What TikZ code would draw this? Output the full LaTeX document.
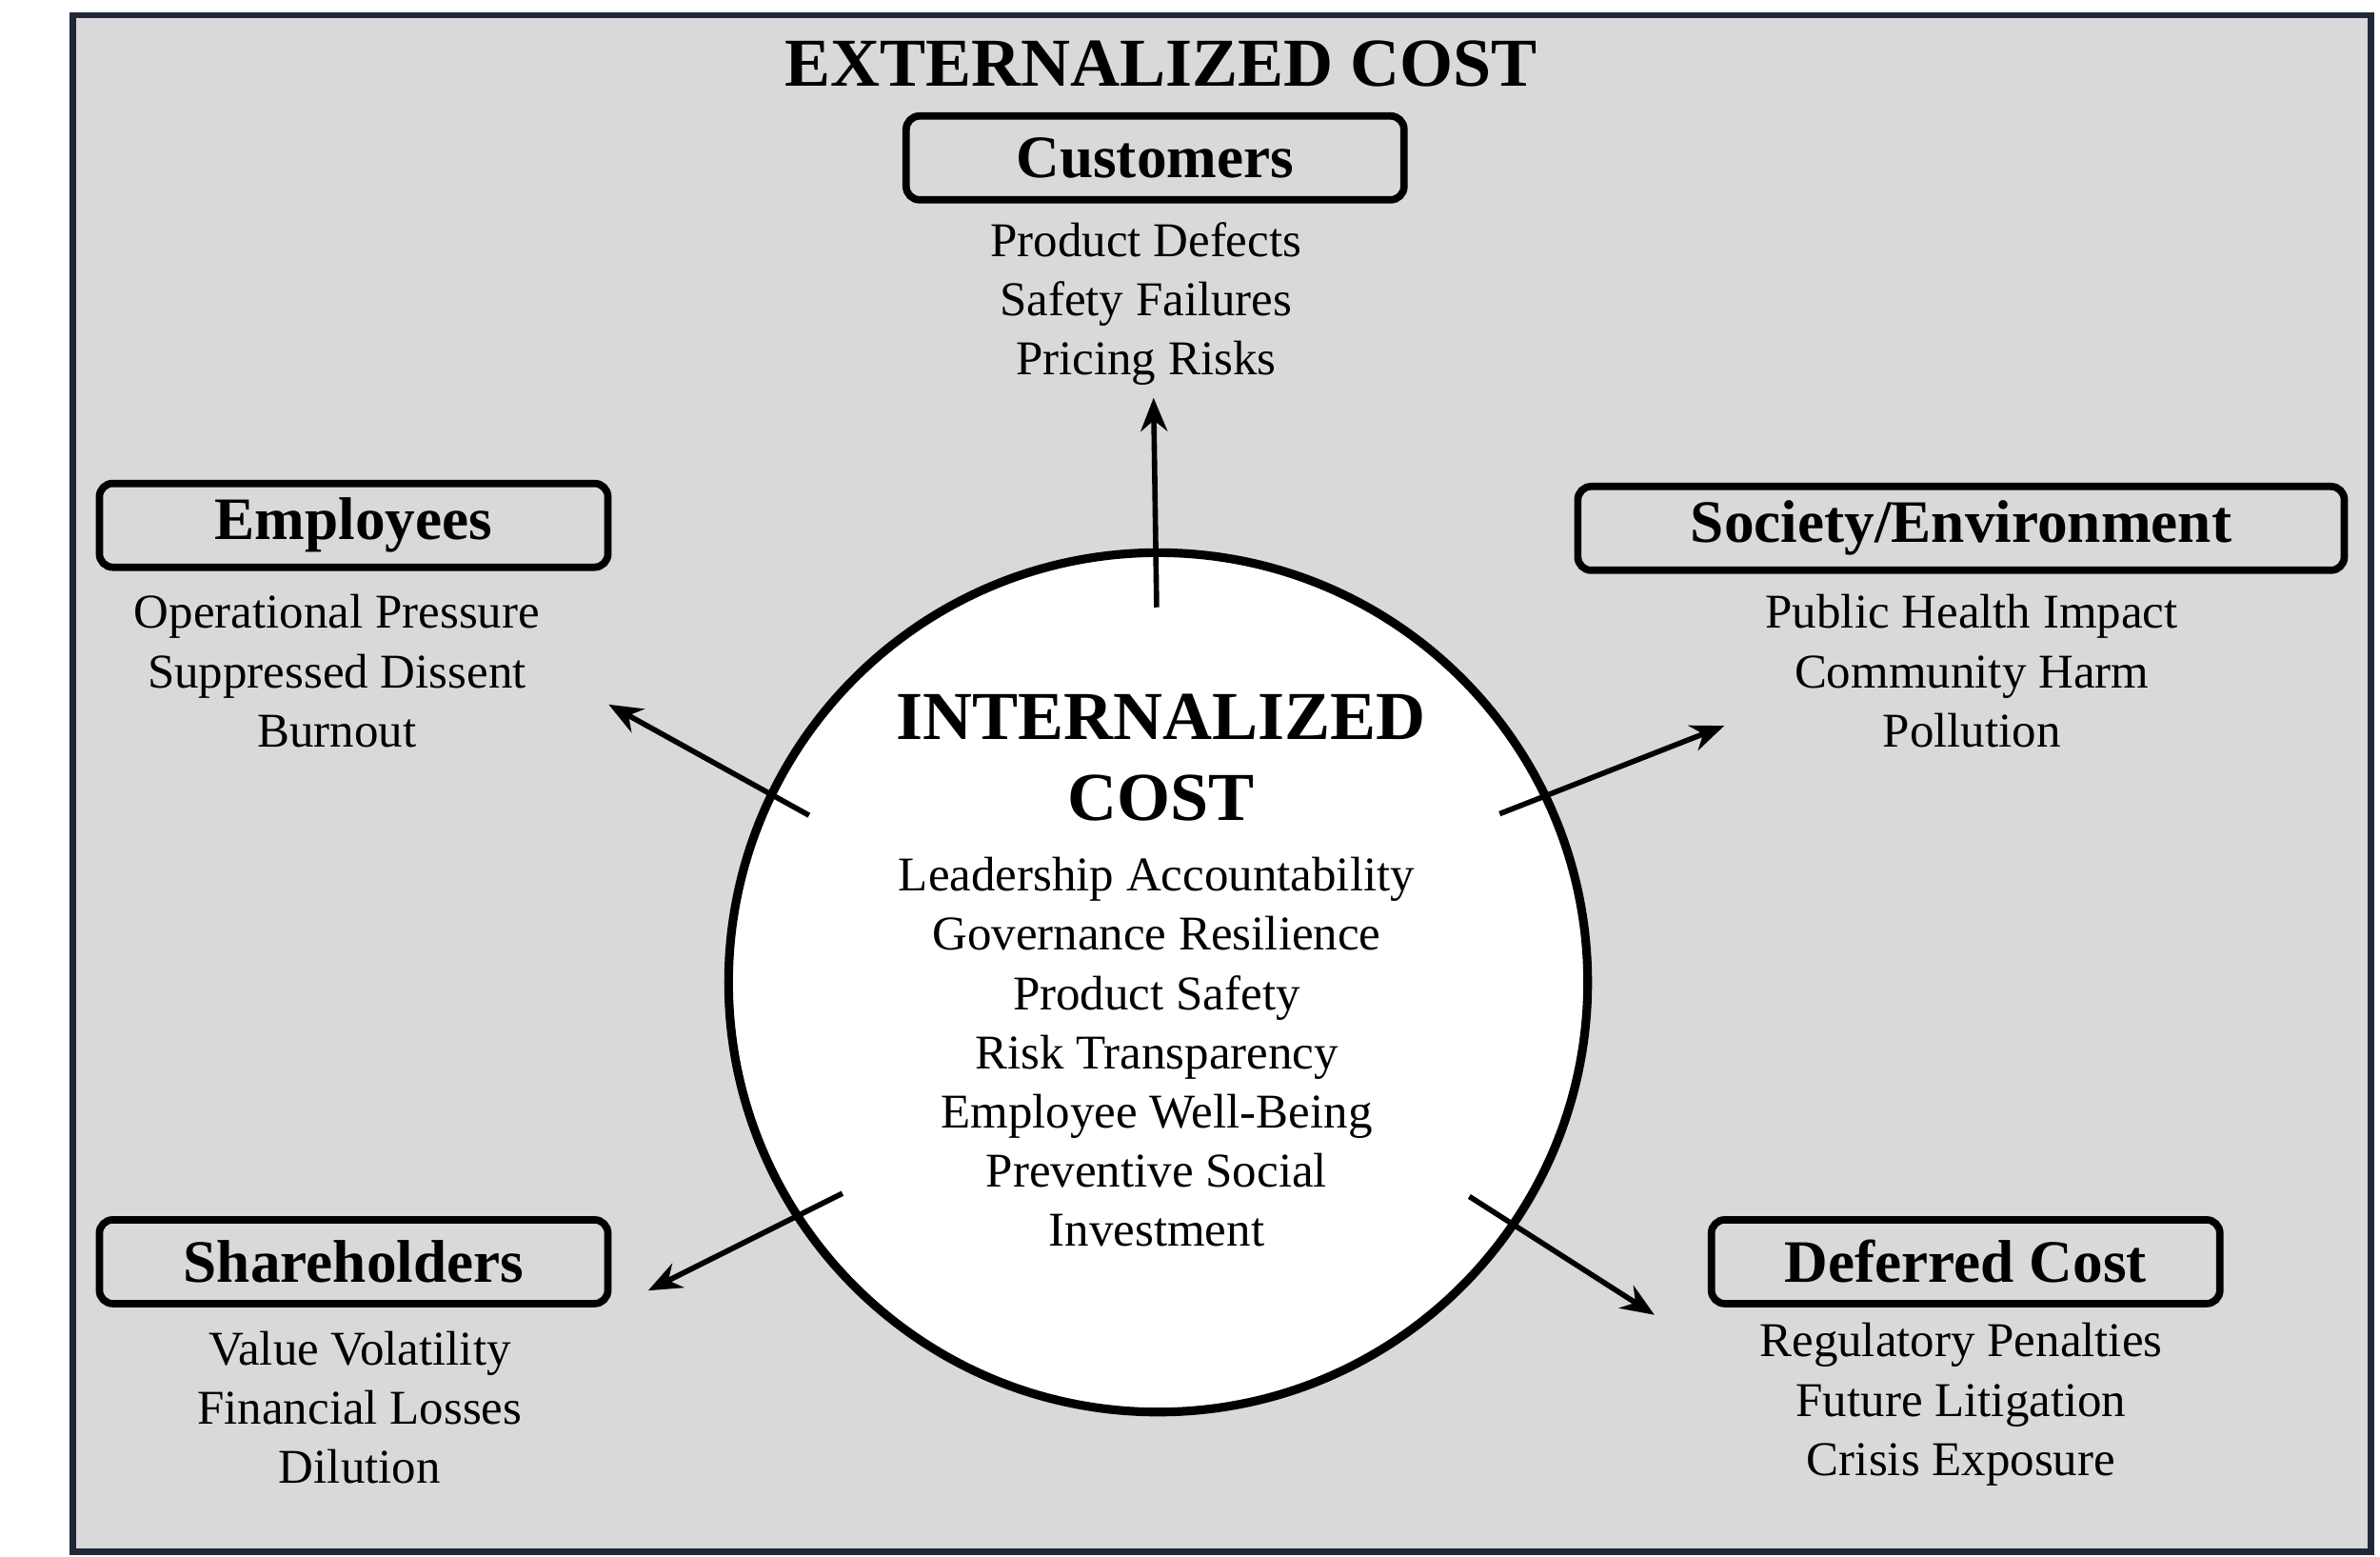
\documentclass[tikz,border=0pt]{standalone}
\usepackage{fontspec}
\setmainfont{Liberation Serif}
\usetikzlibrary{arrows.meta}
\begin{document}
\begin{tikzpicture}[x=0.01594cm,y=-0.01594cm,
 box/.style={draw=black,line width=2.2pt,rounded corners=4pt,fill=none,minimum height=0.88cm,font=\fontsize{18}{20}\selectfont\bfseries},
 lst/.style={align=center,font=\fontsize{14.5}{17.7}\selectfont,inner sep=0pt},
 arr/.style={line width=1.6pt,-{Stealth[length=10pt,width=8pt]}}]
\useasboundingbox (0,0) rectangle (1568,1025);
\fill[white] (0,0) rectangle (1568,1025);
\draw[fill={rgb,255:red,217;green,217;blue,217},draw={rgb,255:red,30;green,40;blue,55},line width=1.8pt] (48,10) rectangle (1562,1022);
\node[font=\fontsize{20.5}{22}\selectfont\bfseries] (title) at (765,42) {EXTERNALIZED COST};
\node[circle,draw,line width=2.6pt,fill=white,minimum size=566*0.01594cm] (c) at (763,647) {};
\node[font=\fontsize{20.5}{24}\selectfont\bfseries,align=center] (ct) at (765,499) {INTERNALIZED\\COST};
\node[lst] (cl) at (762,693) {Leadership Accountability\\Governance Resilience\\Product Safety\\Risk Transparency\\Employee Well-Being\\Preventive Social\\Investment};
\node[box,minimum width=328*0.01594cm] (cu) at (761,104) {Customers};
\node[lst] (cul) at (755,200) {Product Defects\\Safety Failures\\Pricing Risks};
\node[box,minimum width=335*0.01594cm] (em) at (233,346) {Employees};
\node[lst] (eml) at (222,442) {Operational Pressure\\Suppressed Dissent\\Burnout};
\node[box,minimum width=505*0.01594cm] (so) at (1292,348) {Society/Environment};
\node[lst] (sol) at (1299,442) {Public Health Impact\\Community Harm\\Pollution};
\node[box,minimum width=335*0.01594cm] (sh) at (233,831) {Shareholders};
\node[lst] (shl) at (237,927) {Value Volatility\\Financial Losses\\Dilution};
\node[box,minimum width=335*0.01594cm] (de) at (1295,831) {Deferred Cost};
\node[lst] (del) at (1292,925) {Regulatory Penalties\\Future Litigation\\Crisis Exposure};
\coordinate (s1) at (762,400); \coordinate (e1) at (760,262);
\coordinate (s2) at (533,537); \coordinate (e2) at (401,464);
\coordinate (s3) at (988,536); \coordinate (e3) at (1136,478);
\coordinate (s4) at (555,786); \coordinate (e4) at (427,850);
\coordinate (s5) at (968,788); \coordinate (e5) at (1090,866);
\foreach \i in {1,...,5} \draw[arr] (s\i) -- (e\i);
\end{tikzpicture}
\end{document}
